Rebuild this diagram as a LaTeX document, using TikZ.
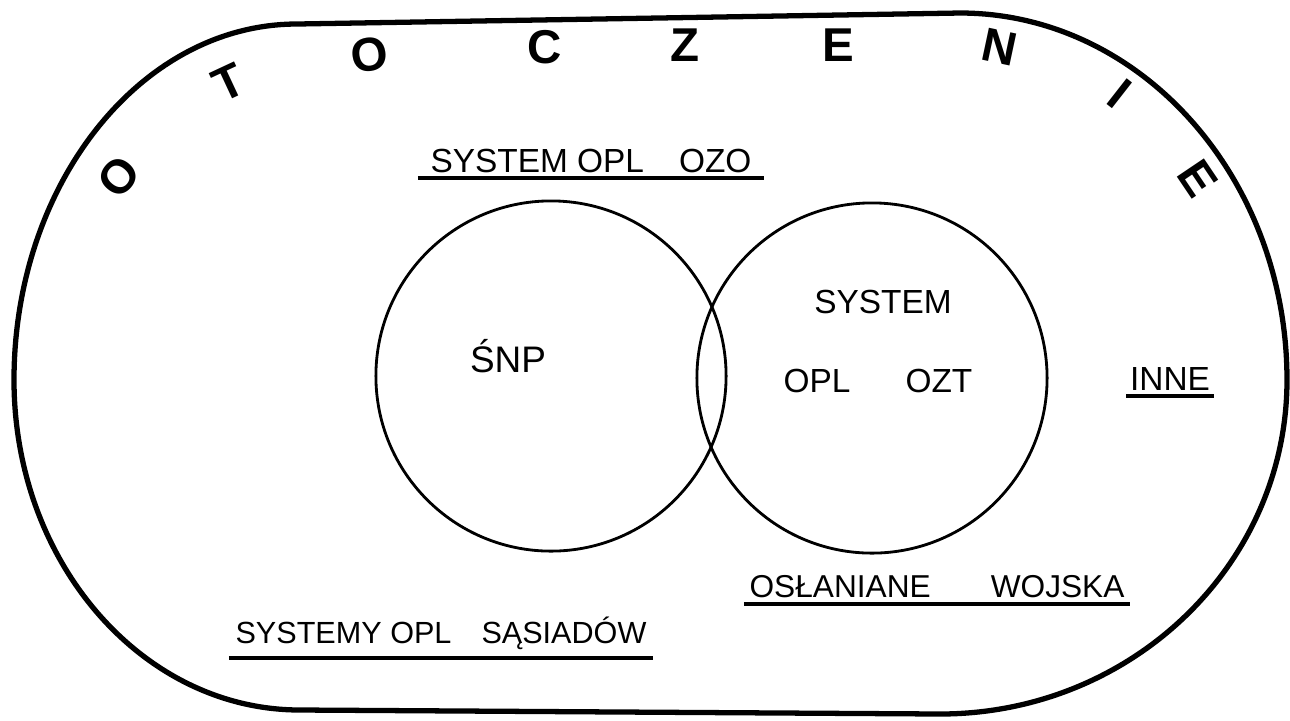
\documentclass[tikz,border=0pt]{standalone}
\usepackage{fontspec}
\setmainfont{Liberation Sans}
\usetikzlibrary{positioning}

\begin{document}
\begin{tikzpicture}[x=0.01cm,y=-0.01cm,
  rim/.style={line width=1.5pt,line join=round},
  setc/.style={draw,circle,line width=0.8pt,minimum size=3.5cm,inner sep=0pt},
  lbl/.style={font=\fontsize{9.5}{11}\selectfont,anchor=base,inner sep=0pt},
  tag/.style={lbl,text depth=0pt,inner xsep=0.12cm,inner ysep=0.05cm},
  uline/.style={line width=1.1pt},
  ring/.style={font=\fontsize{13.5}{15}\selectfont\bfseries,inner sep=0pt}]
\useasboundingbox (0,0) rectangle (1290,720);
% outer boundary
\draw[rim] (297,24) -- (960,13)
  .. controls (1140,13) and (1287,177) .. (1287,380)
  .. controls (1287,564) and (1132,714) .. (940,714)
  -- (300,710)
  .. controls (142,710) and (14,562) .. (14,380)
  .. controls (14,184) and (141,24) .. (297,24) -- cycle;
% letters along the rim
\node[ring,rotate=50]  (r1) at (119,177) {O};
\node[ring,rotate=25]  (r2) at (229,83)  {T};
\node[ring,rotate=8]   (r3) at (370,55)  {O};
\node[ring]            (r4) at (545,47)  {C};
\node[ring]            (r5) at (685,45)  {Z};
\node[ring]            (r6) at (838,45)  {E};
\node[ring,rotate=-12] (r7) at (1000,47) {N};
\node[ring,rotate=-38] (r8) at (1120,94) {I};
\node[ring,rotate=-56] (r9) at (1198,178) {E};
% the two sets
\node[setc] (snp) at (551,376) {};
\node[setc] (ozt) at (872,378) {};
\node[lbl,font=\fontsize{10.5}{12}\selectfont] (snpname) at (508,372) {ŚNP};
\node[lbl] (oztname) at (883,313) {SYSTEM};
\node[lbl] (oztsub) at (878,392) {OPL\hspace{0.55cm}OZT};
% labels outside
\node[tag] (ozo) at (591,172) {SYSTEM OPL\hspace{0.35cm}OZO};
\node[tag,inner xsep=0.03cm] (inne) at (1170,390) {INNE};
\node[tag,font=\fontsize{9}{11}\selectfont,inner xsep=0.05cm,inner ysep=0.06cm] (wojska) at (937,597) {OSŁANIANE\hspace{0.6cm}WOJSKA};
\node[tag,font=\fontsize{8.7}{10}\selectfont,inner xsep=0.06cm,inner ysep=0.14cm] (sasiad) at (441,643) {SYSTEMY OPL\hspace{0.3cm}SĄSIADÓW};
\draw[uline] (ozo.south west) -- (ozo.south east);
\draw[uline] (inne.south west) -- (inne.south east);
\draw[uline] (wojska.south west) -- (wojska.south east);
\draw[uline] (sasiad.south west) -- (sasiad.south east);
\end{tikzpicture}
\end{document}
